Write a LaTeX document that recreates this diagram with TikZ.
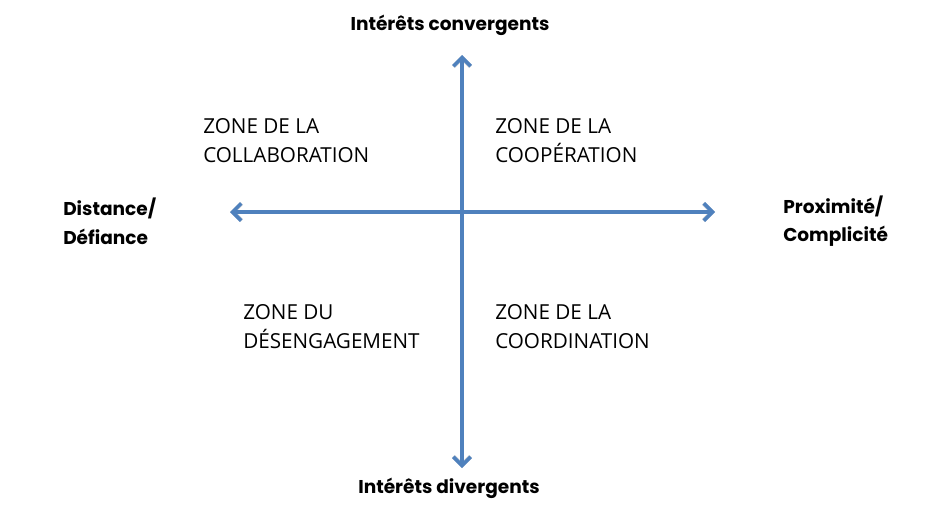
\documentclass[tikz,border=0pt]{standalone}
\usepackage{fontspec}
\setmainfont{Open Sans}
\newfontfamily\headfont{Poppins}[UprightFont=* Bold]
\usetikzlibrary{arrows.meta}
\definecolor{axisblue}{HTML}{4F81BD}
\tikzset{
  axisline/.style={line width=2.7pt, color=axisblue, {Straight Barb[length=6.5pt,width=13pt]}-{Straight Barb[length=6.5pt,width=13pt]}},
  axisshadow/.style={line width=3.2pt, color=black, opacity=0.12, {Straight Barb[length=6.5pt,width=13pt]}-{Straight Barb[length=6.5pt,width=13pt]}},
  pole/.style={font=\headfont\fontsize{13.9pt}{21.5pt}\selectfont, inner sep=0pt, align=left},
  zone/.style={font=\fontsize{15.5pt}{21.7pt}\selectfont, inner sep=0pt, align=left, anchor=west},
}
\begin{document}
\begin{tikzpicture}[x=0.75pt,y=-0.75pt]
  \useasboundingbox (0,0) rectangle (929,511);
  % axis end points
  \coordinate (top) at (462,55);
  \coordinate (bottom) at (462,468);
  \coordinate (west) at (230,212);
  \coordinate (east) at (715,212);
  % soft shadow under the axes
  \begin{scope}[shift={(1.5,2)}]
    \draw[axisshadow] (west) -- (east);
    \draw[axisshadow] (bottom) -- (top);
  \end{scope}
  % axes
  \draw[axisline] (west) -- (east);
  \draw[axisline] (bottom) -- (top);
  % pole labels
  \node[pole, anchor=center] (conv) at (450,25) {Intérêts convergents};
  \node[pole, anchor=center] (div) at (449,488) {Intérêts divergents};
  \node[pole, anchor=west] (dist) at (63,221) {Distance/\\Défiance};
  \node[pole, anchor=west] (prox) at (783,221) {Proximité/\\Complicité};
  % quadrant labels
  \node[zone] (collab) at (203,141) {ZONE DE LA\\COLLABORATION};
  \node[zone] (coop) at (495,141) {ZONE DE LA\\COOPÉRATION};
  \node[zone] (deseng) at (243,327) {ZONE DU\\DÉSENGAGEMENT};
  \node[zone] (coord) at (495,327) {ZONE DE LA\\COORDINATION};
\end{tikzpicture}
\end{document}
